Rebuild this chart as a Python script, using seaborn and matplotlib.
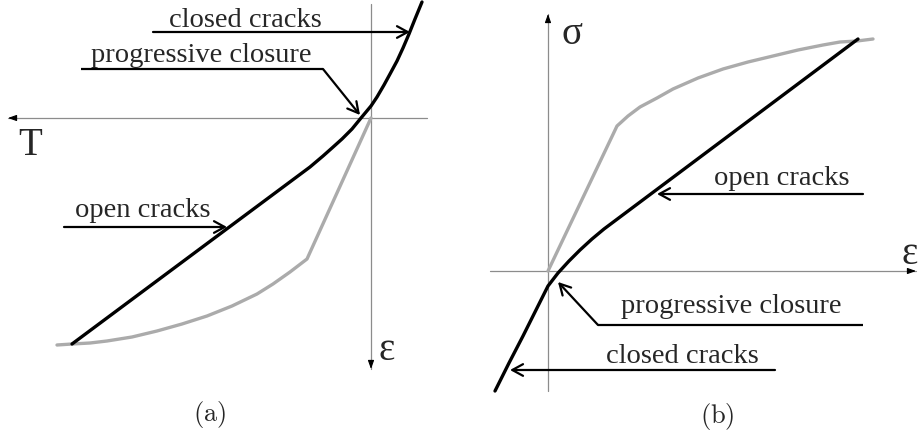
import numpy as np
import pandas as pd
import matplotlib
matplotlib.use("Agg")
import matplotlib.pyplot as plt
import seaborn as sns

# panel (a): T (positive to the left) vs strain (positive downwards)
a_black_T = [2.99, 0.61, 0.48, 0.39, 0.29, 0.19, 0.10, 0.05, 0.00, -0.06,
             -0.13, -0.19, -0.26, -0.32, -0.38, -0.44, -0.51]
a_black_eps = [2.26, 0.49, 0.38, 0.30, 0.21, 0.11, 0.00, -0.06, -0.12, -0.21,
               -0.33, -0.44, -0.57, -0.70, -0.84, -0.99, -1.16]
a_gray_T = [0.00, 0.64, 0.81, 0.98, 1.14, 1.39, 1.64, 1.89, 2.14, 2.39, 2.64, 2.81, 2.99, 3.14]
a_gray_eps = [0.00, 1.41, 1.54, 1.66, 1.76, 1.88, 1.98, 2.06, 2.13, 2.19, 2.23, 2.25, 2.26, 2.27]

# panel (b): strain vs stress
b_black_eps = [-0.53, -0.39, -0.25, -0.11, 0.00, 0.10, 0.21, 0.32, 0.44, 0.56, 3.10]
b_black_sig = [-1.20, -0.92, -0.65, -0.37, -0.15, -0.02, 0.10, 0.21, 0.32, 0.42, 2.32]
b_gray_eps = [0.00, 0.69, 0.80, 0.92, 1.09, 1.25, 1.50, 1.75, 2.00, 2.25, 2.50, 2.75, 2.92, 3.09, 3.25]
b_gray_sig = [0.00, 1.45, 1.55, 1.64, 1.73, 1.82, 1.93, 2.02, 2.09, 2.15, 2.21, 2.26, 2.29, 2.30, 2.32]

labels = ["closed cracks", "progressive closure", "open cracks"]

BLACK = "black"
GRAY = "#ababab"
AXIS = "#8c8c8c"

sns.set_style("white")
plt.rcParams['font.family'] = ['Liberation Serif', 'DejaVu Serif']
plt.rcParams['mathtext.fontset'] = 'cm'

fig = plt.figure(figsize=(9.18, 4.35), dpi=100)
ax_a = fig.add_axes([0, 0, 0.5, 1])
ax_b = fig.add_axes([0.5, 0, 0.5, 1])

ax_a.set_xlim(3.71, -0.88)
ax_a.set_ylim(3.16, -1.19)
ax_b.set_xlim(-0.89, 3.70)
ax_b.set_ylim(-1.63, 2.72)


def axis_line(ax, start, end):
    ax.plot([start[0], end[0]], [start[1], end[1]], color=AXIS, lw=0.9, zorder=1)
    # small filled head at the end
    dx = end[0] - start[0]
    dy = end[1] - start[1]
    n = np.hypot(dx, dy)
    back = (end[0] - 0.08 * dx / n, end[1] - 0.08 * dy / n)
    ax.annotate('', xy=end, xytext=back,
                arrowprops=dict(arrowstyle='-|>,head_length=0.5,head_width=0.18',
                                color=BLACK, lw=0.8, shrinkA=0, shrinkB=0,
                                mutation_scale=10))


def pointer(ax, path, tip):
    # leader line with open arrow head
    if len(path) > 1:
        xs = [p[0] for p in path]
        ys = [p[1] for p in path]
        ax.plot(xs, ys, color=BLACK, lw=1.6, solid_capstyle='butt', zorder=4)
    ax.annotate('', xy=tip, xytext=path[-1],
                arrowprops=dict(arrowstyle='->,head_length=0.55,head_width=0.3',
                                color=BLACK, lw=1.6, shrinkA=0, shrinkB=0,
                                mutation_scale=14), zorder=4)


def curves(ax, gx, gy, bx, by):
    sns.lineplot(x=gx, y=gy, sort=False, estimator=None, color=GRAY, lw=2.4, ax=ax, zorder=2)
    sns.lineplot(x=bx, y=by, sort=False, estimator=None, color=BLACK, lw=2.4, ax=ax, zorder=3)
    for line in ax.get_lines()[-2:]:
        line.set_solid_joinstyle('round')


# ---- panel (a)
axis_line(ax_a, (-0.56, 0.0), (3.63, 0.0))
axis_line(ax_a, (0.0, -1.14), (0.0, 2.51))
curves(ax_a, a_gray_T, a_gray_eps, a_black_T, a_black_eps)

tsize = 20.5
ax_a.text(1.26, -0.92, labels[0], ha='center', va='baseline', fontsize=tsize)
pointer(ax_a, [(2.18, -0.86)], (-0.39, -0.86))
ax_a.text(1.70, -0.57, labels[1], ha='center', va='baseline', fontsize=tsize)
pointer(ax_a, [(2.90, -0.49), (0.48, -0.49)], (0.11, -0.03))
ax_a.text(2.28, 0.98, labels[2], ha='center', va='baseline', fontsize=tsize)
pointer(ax_a, [(3.07, 1.09)], (1.44, 1.09))

ax_a.text(3.41, 0.36, "T", ha='center', va='baseline', fontsize=28)
ax_a.text(-0.16, 2.32, "ε", ha='center', va='center', fontsize=28)
ax_a.text(1.61, 2.96, r"$\mathrm{(a)}$", ha='center', va='center', fontsize=19)

# ---- panel (b)
axis_line(ax_b, (0.0, -1.20), (0.0, 2.57))
axis_line(ax_b, (-0.58, 0.0), (3.68, 0.0))
curves(ax_b, b_gray_eps, b_gray_sig, b_black_eps, b_black_sig)

ax_b.text(2.34, 0.87, labels[2], ha='center', va='baseline', fontsize=tsize)
pointer(ax_b, [(3.15, 0.77)], (1.09, 0.77))
ax_b.text(1.83, -0.41, labels[1], ha='center', va='baseline', fontsize=tsize)
pointer(ax_b, [(3.15, -0.54), (0.50, -0.54)], (0.10, -0.11))
ax_b.text(1.34, -0.91, labels[0], ha='center', va='baseline', fontsize=tsize)
pointer(ax_b, [(2.27, -0.99)], (-0.38, -0.99))

ax_b.text(0.24, 2.37, "σ", ha='center', va='center', fontsize=28)
ax_b.text(3.62, 0.18, "ε", ha='center', va='center', fontsize=28, clip_on=False)
ax_b.text(1.69, -1.44, r"$\mathrm{(b)}$", ha='center', va='center', fontsize=19)

for ax in (ax_a, ax_b):
    ax.axis('off')

fig.savefig("out.png", dpi=100)
